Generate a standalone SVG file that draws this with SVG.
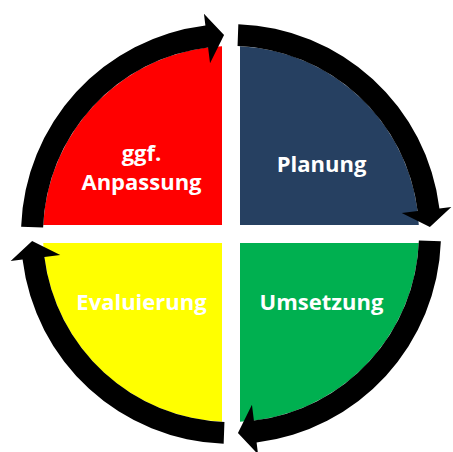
<svg xmlns="http://www.w3.org/2000/svg" xmlns:xlink="http://www.w3.org/1999/xlink" width="453" height="452" viewBox="0 0 453 452">
  <style>
    .lbl { font-family: "Open Sans", "Noto Sans", "Liberation Sans", sans-serif; font-weight: bold; font-size: 22px; fill: #FFFFFF; text-anchor: middle; }
    .arrow { fill: #000000; }
  </style>
  <defs>
    <path id="arc" class="arrow" d="M 238.33,24.13 A 210 210 0 0 1 439.44,208.41 L 451.35,206.94 L 429.88,227.05 L 401.72,213.04 L 417.60,211.09 A 188 188 0 0 0 237.56,46.11 Z"/>
  </defs>
  <rect width="453" height="452" fill="#FFFFFF"/>
  <g id="anpassung">
    <path d="M 222,225 L 222,46.2 A 188 188 0 0 0 43.2,225 Z" fill="#FF0000"/>
    <text class="lbl" x="141.5" y="161">ggf.</text>
    <text class="lbl" x="141.5" y="190">Anpassung</text>
  </g>
  <g id="planung">
    <path d="M 240,225 L 240,46.2 A 188 188 0 0 1 418.8,225 Z" fill="#264061"/>
    <text class="lbl" x="321.5" y="172">Planung</text>
  </g>
  <g id="umsetzung">
    <path d="M 240,243 L 418.8,243 A 188 188 0 0 1 240,421.8 Z" fill="#00B050"/>
    <text class="lbl" x="321.5" y="310">Umsetzung</text>
  </g>
  <g id="evaluierung">
    <path d="M 222,243 L 222,421.8 A 188 188 0 0 1 43.2,243 Z" fill="#FFFF00"/>
    <text class="lbl" x="141.5" y="310">Evaluierung</text>
  </g>
  <g id="connectors">
    <use xlink:href="#arc" transform="rotate(-90 231 234)"/>
    <use xlink:href="#arc"/>
    <use xlink:href="#arc" transform="rotate(90 231 234)"/>
    <use xlink:href="#arc" transform="rotate(180 231 234)"/>
  </g>
</svg>
